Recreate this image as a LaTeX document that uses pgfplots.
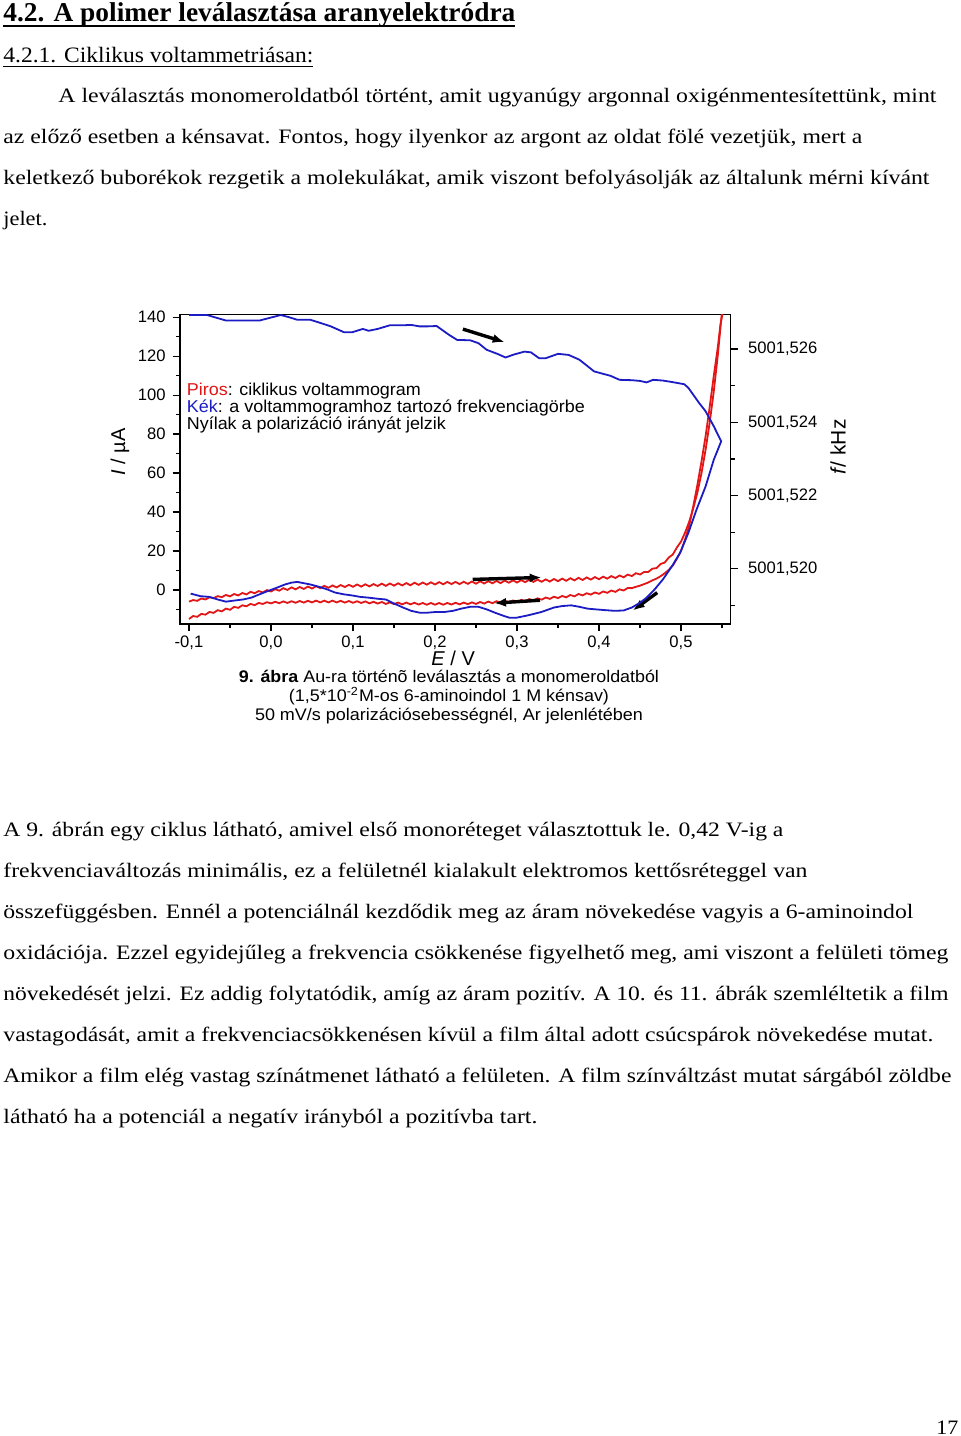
\documentclass[border=0pt]{standalone}
\usepackage{pgfplots}
\pgfplotsset{compat=1.18}
\usepackage{pgfplotstable}
\usepackage{fontspec}
\usepackage{graphicx}
\usetikzlibrary{arrows.meta}
\setmainfont{Liberation Serif}
\newfontfamily\arial{Liberation Sans}
\definecolor{cvred}{RGB}{226,22,22}
\definecolor{cvblue}{RGB}{28,28,196}
\newcommand{\fs}[1]{\fontsize{#1}{#1}\selectfont}
% one line of page text: x, baseline, width (pt), text
\newcommand{\tl}[4]{\node[anchor=base west,inner sep=0pt] at (#1,#2) {\resizebox{#3pt}{\height}{#4}};}
\newcommand{\tc}[4]{\node[anchor=base,inner sep=0pt] at (#1,#2) {\resizebox{#3pt}{\height}{#4}};}

% current, forward scan (E / V, I / uA)
\pgfplotstableread{
E I
-0.100 -6.0
-0.095 -5.2
-0.090 -5.6
-0.085 -4.4
-0.080 -4.9
-0.075 -3.8
-0.070 -4.2
-0.065 -3.2
-0.060 -3.7
-0.055 -2.6
-0.050 -3.3
-0.045 -2.1
-0.040 -2.8
-0.035 -1.6
-0.030 -2.3
-0.025 -1.0
-0.020 -1.7
-0.015 -0.6
-0.010 -1.3
-0.005 -0.1
0.000 -0.8
0.005 0.4
0.010 -0.4
0.015 0.9
0.020 0.0
0.025 1.3
0.030 0.3
0.035 1.5
0.040 0.5
0.045 1.7
0.050 0.7
0.055 1.9
0.060 0.9
0.065 2.1
0.070 1.1
0.075 2.3
0.080 1.3
0.085 2.5
0.090 1.5
0.095 2.6
0.100 1.6
0.105 2.8
0.110 1.7
0.115 2.9
0.120 1.8
0.125 3.0
0.130 2.0
0.135 3.2
0.140 2.1
0.145 3.3
0.150 2.2
0.155 3.4
0.160 2.3
0.165 3.5
0.170 2.4
0.175 3.7
0.180 2.6
0.185 3.8
0.190 2.7
0.195 3.9
0.200 2.8
0.205 4.0
0.210 2.9
0.215 4.1
0.220 3.0
0.225 4.1
0.230 3.0
0.235 4.2
0.240 3.1
0.245 4.3
0.250 3.2
0.255 4.4
0.260 3.3
0.265 4.5
0.270 3.4
0.275 4.6
0.280 3.5
0.285 4.8
0.290 3.7
0.295 4.9
0.300 3.8
0.305 5.0
0.310 4.0
0.315 5.2
0.320 4.1
0.325 5.3
0.330 4.2
0.335 5.4
0.340 4.3
0.345 5.6
0.350 4.5
0.355 5.8
0.360 4.7
0.365 6.0
0.370 4.9
0.375 6.2
0.380 5.1
0.385 6.4
0.390 5.3
0.395 6.6
0.400 5.5
0.405 6.8
0.410 5.8
0.415 7.1
0.420 6.1
0.425 7.4
0.430 6.5
0.435 7.9
0.440 7.1
0.445 8.6
0.450 7.9
0.455 9.2
0.460 9.2
0.465 10.9
0.470 11.2
0.475 13.3
0.480 14.0
0.485 16.6
0.490 18.2
0.495 21.8
0.500 24.8
0.505 29.5
0.510 35
0.515 42
0.520 50
0.525 60
0.530 72
0.535 86
0.540 102
0.545 121
0.550 143
}\cvfwd

% current, reverse scan
\pgfplotstableread{
E I
0.552 145
0.548 136
0.545 125
0.540 110
0.535 94
0.530 79
0.525 66
0.520 54
0.515 43
0.510 33
0.505 26
0.500 20
0.495 16
0.490 12.5
0.485 10.3
0.480 8.5
0.475 7.0
0.470 5.8
0.465 4.9
0.460 3.8
0.455 3.0
0.450 2.2
0.445 1.6
0.440 0.9
0.435 1.0
0.430 -0.3
0.425 0.3
0.420 -1.0
0.415 -0.3
0.410 -1.5
0.405 -0.8
0.400 -2.0
0.395 -1.3
0.390 -2.4
0.385 -1.7
0.380 -2.8
0.375 -2.1
0.370 -3.3
0.365 -2.6
0.360 -3.8
0.355 -3.1
0.350 -4.2
0.345 -3.5
0.340 -4.6
0.335 -3.9
0.330 -5.0
0.325 -4.3
0.320 -5.4
0.315 -4.7
0.310 -5.8
0.305 -5.1
0.300 -6.2
0.295 -5.4
0.290 -6.4
0.285 -5.6
0.280 -6.6
0.275 -5.8
0.270 -6.8
0.265 -6.0
0.260 -7.0
0.255 -6.2
0.250 -7.2
0.245 -6.4
0.240 -7.3
0.235 -6.5
0.230 -7.4
0.225 -6.6
0.220 -7.5
0.215 -6.7
0.210 -7.6
0.205 -6.7
0.200 -7.6
0.195 -6.7
0.190 -7.6
0.185 -6.7
0.180 -7.5
0.175 -6.6
0.170 -7.4
0.165 -6.5
0.160 -7.4
0.155 -6.5
0.150 -7.3
0.145 -6.4
0.140 -7.2
0.135 -6.2
0.130 -7.0
0.125 -6.1
0.120 -6.9
0.115 -5.9
0.110 -6.7
0.105 -5.8
0.100 -6.6
0.095 -5.7
0.090 -6.5
0.085 -5.6
0.080 -6.4
0.075 -5.5
0.070 -6.4
0.065 -5.5
0.060 -6.4
0.055 -5.5
0.050 -6.4
0.045 -5.6
0.040 -6.5
0.035 -5.7
0.030 -6.6
0.025 -5.8
0.020 -6.7
0.015 -5.9
0.010 -6.8
0.005 -6.1
0.000 -6.9
-0.005 -6.3
-0.010 -7.2
-0.015 -6.7
-0.020 -7.8
-0.025 -7.2
-0.030 -8.4
-0.035 -7.9
-0.040 -9.2
-0.045 -8.7
-0.050 -10.2
-0.055 -9.6
-0.060 -11.0
-0.065 -10.4
-0.070 -11.8
-0.075 -11.3
-0.080 -12.7
-0.085 -12.3
-0.090 -13.8
-0.095 -13.4
-0.100 -14.9
}\cvrev

% frequency, f - 5001.5 kHz in Hz
\pgfplotstableread{
E f
-0.100 26.93
-0.078 26.93
-0.055 26.78
-0.034 26.78
-0.014 26.78
-0.002 26.85
0.012 26.93
0.022 26.87
0.032 26.80
0.048 26.80
0.058 26.73
0.073 26.62
0.089 26.46
0.099 26.46
0.112 26.55
0.119 26.50
0.130 26.55
0.145 26.65
0.161 26.65
0.171 26.66
0.181 26.62
0.191 26.62
0.202 26.63
0.217 26.39
0.227 26.25
0.243 26.24
0.253 26.16
0.263 25.98
0.276 25.87
0.286 25.77
0.296 25.85
0.309 25.93
0.317 25.91
0.327 25.75
0.335 25.75
0.350 25.87
0.363 25.84
0.376 25.71
0.384 25.57
0.394 25.39
0.404 25.33
0.414 25.27
0.425 25.16
0.440 25.15
0.450 25.13
0.458 25.09
0.466 25.16
0.478 25.14
0.489 25.10
0.504 25.04
0.509 24.94
0.522 24.53
0.530 24.30
0.540 23.89
0.549 23.48
0.540 22.98
0.530 22.25
0.519 21.62
0.509 20.98
0.499 20.44
0.489 20.07
0.478 19.71
0.468 19.44
0.458 19.21
0.450 19.07
0.440 18.94
0.430 18.86
0.419 18.85
0.407 18.87
0.396 18.89
0.386 18.91
0.376 18.96
0.366 19.00
0.355 18.98
0.345 18.94
0.330 18.82
0.314 18.73
0.299 18.66
0.291 18.66
0.284 18.71
0.273 18.80
0.263 18.89
0.253 18.96
0.243 18.96
0.232 18.91
0.222 18.85
0.212 18.82
0.202 18.82
0.191 18.80
0.181 18.80
0.171 18.85
0.161 18.94
0.150 19.05
0.140 19.16
0.130 19.18
0.119 19.21
0.109 19.23
0.099 19.27
0.089 19.30
0.078 19.35
0.068 19.44
0.058 19.51
0.048 19.57
0.032 19.64
0.025 19.62
0.017 19.57
0.007 19.48
-0.004 19.39
-0.014 19.30
-0.024 19.21
-0.034 19.16
-0.045 19.13
-0.055 19.10
-0.065 19.16
-0.075 19.23
-0.086 19.25
-0.098 19.32
}\freq

\pgfplotsset{
  cvbase/.style={
    at={(axo)}, anchor=south west, scale only axis,
    width=275.35pt, height=154.85pt,
    xmin=-0.111, xmax=0.5606,
    tick align=outside,
    major tick length=3.7pt, minor tick length=2pt,
    every tick/.style={black, line width=0.6pt},
    axis line style={line width=0.7pt},
    tick label style={font=\arial\fs{8.3}},
    /pgf/number format/assume math mode=true,
  }
}

\begin{document}
\begin{tikzpicture}
\begin{scope}[x=0.5pt,y=-0.5pt]
\fill[white] (0,0) rectangle (960,1436);
\coordinate (axo) at (180,624);

% page text above the figure
\tl{3}{21}{256}{\fs{13.6}\bfseries 4.2. A polimer leválasztása aranyelektródra}
\draw[line width=1pt] (3,25.5) -- (515,25.5);
\tl{3}{62}{155}{\fs{11}4.2.1. Ciklikus voltammetriásan:}
\draw[line width=0.5pt] (3,66) -- (313,66);
\tl{58}{102}{439}{\fs{10.25}A leválasztás monomeroldatból történt, amit ugyanúgy argonnal oxigénmentesítettünk, mint}
\tl{3}{143}{429.5}{\fs{10.25}az előző esetben a kénsavat. Fontos, hogy ilyenkor az argont az oldat fölé vezetjük, mert a}
\tl{3}{184}{463}{\fs{10.25}keletkező buborékok rezgetik a molekulákat, amik viszont befolyásolják az általunk mérni kívánt}
\tl{3}{225}{22}{\fs{10.25}jelet.}
\end{scope}

\begin{axis}[cvbase,
  ymin=-17.5, ymax=141.5,
  xtick pos=left, ytick pos=left,
  xtick={-0.1,0,0.1,0.2,0.3,0.4,0.5},
  minor xtick={-0.05,0.05,0.15,0.25,0.35,0.45,0.55},
  ytick={0,20,40,60,80,100,120,140},
  minor ytick={-10,10,30,50,70,90,110,130},
  xticklabel style={yshift=1.5pt, /pgf/number format/.cd, fixed, fixed zerofill, precision=1, use comma},
  xlabel={\textit{E} / V},
  ylabel={\textit{I} / µA},
  every axis x label/.style={at={(axis description cs:0.496,-0.1325)}, anchor=base, font=\arial\fs{10}},
  every axis y label/.style={at={(axis description cs:-0.109,0.555)}, anchor=center, rotate=90, font=\arial\fs{10}},
]
\addplot[cvred, line width=0.9pt] table[x=E, y=I] {\cvfwd};
\addplot[cvred, line width=0.9pt] table[x=E, y=I] {\cvrev};
\draw[line width=1.7pt, -{Latex[length=6pt,width=4.5pt]}] (axis cs:0.234,133.9) -- (axis cs:0.285,127.2);
\draw[line width=1.7pt, -{Latex[length=6pt,width=4.5pt]}] (axis cs:0.246,5.4) -- (axis cs:0.330,6.4);
\draw[line width=1.7pt, -{Latex[length=6pt,width=4.5pt]}] (axis cs:0.328,-5.3) -- (axis cs:0.272,-6.8);
\draw[line width=1.7pt, -{Latex[length=6pt,width=4.5pt]}] (axis cs:0.471,-1.4) -- (axis cs:0.441,-10.6);
\end{axis}

\begin{axis}[cvbase,
  ymin=18.49, ymax=26.95,
  axis x line=none, axis y line*=right,
  ytick pos=right,
  ytick={20,22,24,26},
  yticklabels={{5001,520},{5001,522},{5001,524},{5001,526}},
  minor ytick={19,21,23,25},
  yticklabel style={xshift=1.5pt},
  ylabel={\textit{f}/ kHz},
  every axis y label/.style={at={(axis description cs:1.195,0.571)}, anchor=center, rotate=90, font=\arial\fs{10.5}},
]
\addplot[cvblue, line width=0.9pt] table[x=E, y=f] {\freq};
\end{axis}

\begin{scope}[x=0.5pt,y=-0.5pt]
% notes inside the plot
\tl{186.5}{395}{117}{\arial\fs{8.6}\textcolor{cvred}{Piros}: ciklikus voltammogram}
\tl{186.5}{412}{199}{\arial\fs{8.6}\textcolor{cvblue}{Kék}: a voltammogramhoz tartozó frekvenciagörbe}
\tl{186.5}{429.5}{129.5}{\arial\fs{8.6}Nyílak a polarizáció irányát jelzik}

% figure caption
\tc{449}{682.5}{210}{\arial\fs{8.4}\textbf{9. ábra} Au-ra történõ leválasztás a monomeroldatból}
\tc{449}{701}{160}{\arial\fs{8.4}(1,5*10\textsuperscript{-2}M-os 6-aminoindol 1 M kénsav)}
\tc{449}{720}{194}{\arial\fs{8.4}50 mV/s polarizációsebességnél, Ar jelenlétében}

% page text below the figure
\tl{3}{836}{390}{\fs{10.25}A 9. ábrán egy ciklus látható, amivel első monoréteget választottuk le. 0,42 V-ig a}
\tl{3}{877}{402}{\fs{10.25}frekvenciaváltozás minimális, ez a felületnél kialakult elektromos kettősréteggel van}
\tl{3}{918}{455}{\fs{10.25}összefüggésben. Ennél a potenciálnál kezdődik meg az áram növekedése vagyis a 6-aminoindol}
\tl{3}{959}{472.5}{\fs{10.25}oxidációja. Ezzel egyidejűleg a frekvencia csökkenése figyelhető meg, ami viszont a felületi tömeg}
\tl{3}{1000}{472.5}{\fs{10.25}növekedését jelzi. Ez addig folytatódik, amíg az áram pozitív. A 10. és 11. ábrák szemléltetik a film}
\tl{3}{1041}{465}{\fs{10.25}vastagodását, amit a frekvenciacsökkenésen kívül a film által adott csúcspárok növekedése mutat.}
\tl{3}{1082}{474}{\fs{10.25}Amikor a film elég vastag színátmenet látható a felületen. A film színváltzást mutat sárgából zöldbe}
\tl{3}{1123}{267}{\fs{10.25}látható ha a potenciál a negatív irányból a pozitívba tart.}
\tl{936}{1434}{11}{\fs{10.25}17}
\useasboundingbox (0,0) rectangle (960,1436);
\end{scope}
\end{tikzpicture}
\end{document}
